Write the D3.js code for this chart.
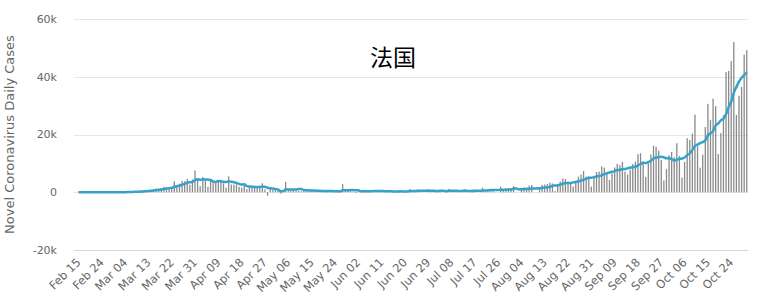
<!DOCTYPE html>
<html>
<head>
<meta charset="utf-8">
<script src="https://cdn.jsdelivr.net/npm/d3@7"></script>
<style>
  body { margin: 0; background: #fff; }
  .tickLabel { font-family: "DejaVu Sans", sans-serif; font-size: 11px; fill: #666; }
  .xLabel { font-size: 11.5px; }
  .axisTitle { font-family: "DejaVu Sans", sans-serif; font-size: 13px; fill: #666; }
  .chartTitle { font-family: "Noto Sans CJK SC", sans-serif; font-size: 23px; fill: #000; }
</style>
</head>
<body>
<div id="chart"></div>
<script>
// daily new cases, Feb 15 - Oct 30 2020, one array per month
var febDaily = [0,0,0,0,0,0,0,0,0,0,2,2,20,19,43];
var marDaily = [30,61,13,81,92,276,296,177,286,372,497,595,785,838,924,1210,1097,1404,1861,1617,1847,1559,3838,2499,2929,3922,3809,4611,2599,4376,7578];
var aprDaily = [4861,2116,5233,4267,1873,3912,3777,3881,4286,4342,3114,1613,5497,2673,2633,2641,1909,1588,2226,1104,1887,2145,1735,2052,1572,3100,1013,-1200,1607,739];
var mayDaily = [1000,500,-500,300,3600,1000,800,1100,600,500,400,800,600,700,600,400,300,200,500,600,300,600,300,200,100,300,2800,400,900,600,200];
var junDaily = [-300,338,352,767,611,579,0,526,346,452,396,542,0,0,407,250,458,468,537,0,0,1093,266,468,1000,512,0,0,1092,430];
var julDaily = [543,581,554,582,0,0,1160,551,658,663,0,0,1050,596,0,874,888,0,0,1580,711,998,1000,1130,0,0,1940,725,1392,1377,1346];
var augDaily = [2100,0,0,1039,1695,1604,2288,2525,0,0,1397,2524,2669,2846,3310,3015,493,2238,3776,4771,4586,3602,3015,1955,3304,5429,6111,7379,5453,5413,1955];
var sepDaily = [4982,7017,7157,8975,8550,7071,4203,6544,8577,9843,9406,10561,7183,6158,7852,9784,10593,13215,13498,10569,5298,10008,13072,16096,15797,14412,11123,4070,8051,12845];
var octDaily = [13970,12148,16972,12565,5084,10489,18746,18129,20339,26896,16101,8505,12993,22591,30621,25086,32427,29837,13243,20468,26676,41622,42032,45422,52010,26771,33417,36437,47637,49215];

// 7-day average line, same days
var febAvg = [0,0,0,0,0,0,0,0,0,0,0,1,3,6,12];
var marAvg = [17,25,27,38,48,85,121,142,174,226,285,357,430,507,614,746,849,979,1160,1279,1423,1514,1889,2089,2307,2602,2915,3310,3458,3535,4261];
var aprAvg = [4537,4279,4482,4433,4329,4263,3720,3580,3890,3763,3598,3561,3787,3629,3451,3216,2869,2651,2738,2111,1998,1929,1799,1820,1817,1942,1929,1488,1411,1269];
var mayAvg = [1119,966,451,349,1035,948,957,971,986,1129,1143,743,686,671,600,571,543,514,471,471,414,414,400,386,371,343,657,671,714,757,757];
var junAvg = [700,705,356,408,367,364,335,453,454,469,416,406,323,323,306,292,293,304,303,303,303,401,403,405,481,477,477,477,477,500];
var julAvg = [511,451,457,540,540,384,489,490,501,516,433,433,583,503,424,455,487,487,487,563,579,722,740,774,774,774,826,828,884,938,969];
var augAvg = [1269,1269,991,1036,1080,1112,1247,1307,1307,1307,1358,1477,1629,1709,1821,2252,2322,2442,2621,2921,3170,3212,3212,3420,3573,3809,4000,4399,4664,5006,5006];
var sepAvg = [5246,5473,5622,5850,6293,6530,6851,7074,7297,7680,7742,8029,8045,8325,8511,8684,8791,9335,9755,10238,10116,10424,10893,11679,12048,12179,12258,12083,11803,11771];
var octAvg = [11467,10946,11311,11517,11662,12010,12853,13448,14618,16035,16541,17029,17387,17936,19721,20399,21189,23151,23828,24896,25480,27051,29472,31329,34496,36429,38279,39673,40532,41558];

var xTickLabels = ["Feb 15","Feb 24","Mar 04","Mar 13","Mar 22","Mar 31","Apr 09","Apr 18","Apr 27","May 06","May 15","May 24","Jun 02","Jun 11","Jun 20","Jun 29","Jul 08","Jul 17","Jul 26","Aug 04","Aug 13","Aug 22","Aug 31","Sep 09","Sep 18","Sep 27","Oct 06","Oct 15","Oct 24"];
var yTicks = [-20000, 0, 20000, 40000, 60000];

var dailyCases = [].concat(febDaily, marDaily, aprDaily, mayDaily, junDaily, julDaily, augDaily, sepDaily, octDaily);
var avgCases = [].concat(febAvg, marAvg, aprAvg, mayAvg, junAvg, julAvg, augAvg, sepAvg, octAvg);

var fmtDay = d3.timeFormat("%b %d");
var days = d3.timeDay.range(new Date(2020, 1, 15), new Date(2020, 9, 31)).map(fmtDay);

var data = days.map(function(d, i) {
    return {day: d, cases: dailyCases[i], avg: avgCases[i]};
});

var width = 761, height = 307;
var plot = {left: 74, right: 748, top: 19, bottom: 250};

var x = d3.scaleBand()
    .domain(days)
    .range([76.5, 748.7])
    .padding(0.5);

var y = d3.scaleLinear()
    .domain([-20000, 60000])
    .range([plot.bottom, plot.top]);

var svg = d3.select("#chart").append("svg")
    .attr("width", width)
    .attr("height", height);

// grid lines
svg.selectAll(".grid")
    .data(yTicks.filter(function(t) { return t > -20000; }))
    .enter()
    .append("line")
    .attr("class", "grid")
    .attr("x1", plot.left)
    .attr("x2", plot.right)
    .attr("y1", function(d) { return Math.round(y(d)) + 0.5; })
    .attr("y2", function(d) { return Math.round(y(d)) + 0.5; })
    .attr("stroke", "#e6e6e6")
    .attr("stroke-width", 1);

// bottom axis line
svg.append("line")
    .attr("x1", plot.left)
    .attr("x2", plot.right)
    .attr("y1", Math.round(y(-20000)) + 0.5)
    .attr("y2", Math.round(y(-20000)) + 0.5)
    .attr("stroke", "#ccd6eb")
    .attr("stroke-width", 1);

// y tick labels
svg.selectAll(".yLabel")
    .data(yTicks)
    .enter()
    .append("text")
    .attr("class", "tickLabel")
    .attr("x", 57)
    .attr("y", function(d) { return y(d); })
    .attr("dy", "0.35em")
    .attr("text-anchor", "end")
    .text(function(d) { return d === 0 ? "0" : (d / 1000) + "k"; });

// x tick labels
svg.selectAll(".xLabel")
    .data(xTickLabels)
    .enter()
    .append("text")
    .attr("class", "tickLabel xLabel")
    .attr("text-anchor", "end")
    .attr("transform", function(d) {
        var cx = x(d) + x.bandwidth() / 2 + 3;
        return "translate(" + cx + ",263) rotate(-45)";
    })
    .text(function(d) { return d; });

// bars
svg.selectAll(".bar")
    .data(data)
    .enter()
    .append("rect")
    .attr("class", "bar")
    .attr("x", function(d) { return x(d.day); })
    .attr("width", x.bandwidth())
    .attr("y", function(d) { return y(Math.max(0, d.cases)); })
    .attr("height", function(d) { return Math.abs(y(d.cases) - y(0)); })
    .attr("fill", "#8a8a8a");

// average line
var line = d3.line()
    .x(function(d) { return x(d.day) + x.bandwidth() / 2; })
    .y(function(d) { return y(d.avg); })
    .curve(d3.curveMonotoneX);

svg.append("path")
    .datum(data)
    .attr("d", line)
    .attr("fill", "none")
    .attr("stroke", "#35a2c9")
    .attr("stroke-width", 2.5)
    .attr("stroke-linejoin", "round");

// y axis title
svg.append("text")
    .attr("class", "axisTitle")
    .attr("text-anchor", "middle")
    .attr("transform", "translate(14," + ((plot.top + plot.bottom) / 2) + ") rotate(-90)")
    .text("Novel Coronavirus Daily Cases");

// chart title
svg.append("text")
    .attr("class", "chartTitle")
    .attr("x", 393)
    .attr("y", 66)
    .attr("text-anchor", "middle")
    .text("法国");
</script>
</body>
</html>
